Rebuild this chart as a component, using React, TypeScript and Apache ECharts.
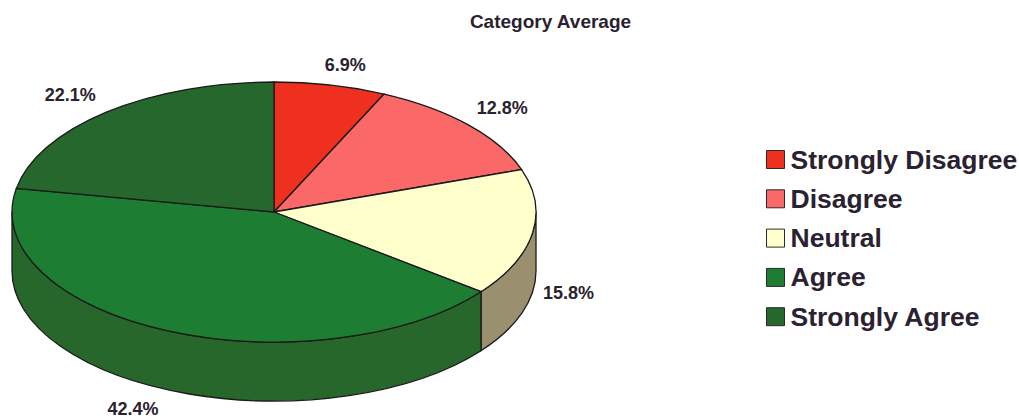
import React, { useEffect, useRef } from "react";
import * as echarts from "echarts";

const categories = ["Strongly Disagree", "Disagree", "Neutral", "Agree", "Strongly Agree"];
const values = [6.9, 12.8, 15.8, 42.4, 22.1];
const topColors = ["#f0301e", "#fa6868", "#ffffcc", "#1d7d32", "#26672e"];
const sideColors = ["#a01c10", "#a84444", "#9a9070", "#28672c", "#1c4a20"];
const labelOffsets = [[15, -20], [34, -17], [36, 60], [-34, 78.5], [-36, -17]];

const CX = 274, CY = 212, RX = 262, RY = 130, DEPTH = 59;
const INK = "#2a2230";
const FONT = '"Liberation Sans", Arial, sans-serif';
const total = values.reduce((a, b) => a + b, 0);

const pt = (deg: number, dy = 0) => {
  const t = (deg * Math.PI) / 180;
  return [CX + RX * Math.sin(t), CY - RY * Math.cos(t) + dy];
};
const arcTo = (from: number, to: number, dy = 0) => {
  const [x, y] = pt(to, dy);
  const large = Math.abs(to - from) > 180 ? 1 : 0;
  const sweep = to > from ? 1 : 0;
  return `A ${RX} ${RY} 0 ${large} ${sweep} ${x} ${y}`;
};

function renderSlice(index: number) {
  return (_params: any, api: any) => {
    const v = api.value(0);
    const before = values.slice(0, index).reduce((a, b) => a + b, 0);
    const start = (before / total) * 360;
    const end = start + (v / total) * 360;
    const stroke = { stroke: "#1a1a1a", lineWidth: 1.3 };
    const children: any[] = [];
    const a = Math.max(start, 90);
    const b = Math.min(end, 270);
    if (b > a) {
      const [ax, ay] = pt(a);
      const [bx, by] = pt(b, DEPTH);
      children.push({
        type: "path",
        shape: { pathData: `M ${ax} ${ay} ${arcTo(a, b)} L ${bx} ${by} ${arcTo(b, a, DEPTH)} Z` },
        style: { fill: sideColors[index], ...stroke },
      });
    }
    const [sx, sy] = pt(start);
    children.push({
      type: "path",
      shape: { pathData: `M ${CX} ${CY} L ${sx} ${sy} ${arcTo(start, end)} Z` },
      style: { fill: topColors[index], ...stroke },
    });
    const mid = pt((start + end) / 2);
    children.push({
      type: "text",
      style: {
        text: `${v.toFixed(1)}%`,
        x: mid[0] + labelOffsets[index][0],
        y: mid[1] + labelOffsets[index][1],
        align: "center",
        verticalAlign: "middle",
        fill: INK,
        font: `bold 18px ${FONT}`,
      },
    });
    return { type: "group", children };
  };
}

export default function App() {
  const ref = useRef<HTMLDivElement>(null);
  useEffect(() => {
    const chart = echarts.init(ref.current!, undefined, { renderer: "svg" });
    chart.setOption({
      animation: false,
      backgroundColor: "#ffffff",
      title: {
        text: "Category Average",
        left: 545.5,
        top: 7,
        textAlign: "center",
        textStyle: { fontFamily: FONT, fontWeight: "bold", fontSize: 19, color: INK },
      },
      legend: {
        orient: "vertical",
        left: 766,
        top: 146,
        itemWidth: 18,
        itemHeight: 18,
        itemGap: 12.3,
        padding: 0,
        icon: "rect",
        data: categories.map((name, i) => ({
          name,
          itemStyle: { color: topColors[i], borderColor: "#2a2a2a", borderWidth: 1 },
        })),
        textStyle: { fontFamily: FONT, fontWeight: "bold", fontSize: 26.5, color: INK, padding: [0, 0, 0, 1] },
      },
      series: categories.map((name, i) => ({
        type: "custom",
        name,
        coordinateSystem: "none",
        silent: true,
        itemStyle: { color: topColors[i] },
        data: [{ name, value: values[i] }],
        renderItem: renderSlice(i),
      })),
    });
    return () => chart.dispose();
  }, []);
  return <div ref={ref} style={{ position: "absolute", left: 0, top: 0, width: 1019, height: 419 }} />;
}
